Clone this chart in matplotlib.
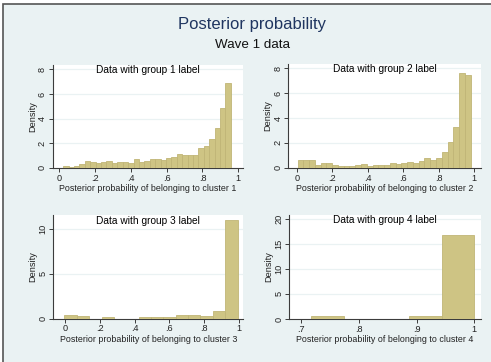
import numpy as np
import matplotlib
matplotlib.use("Agg")
import matplotlib.pyplot as plt
from matplotlib.patches import Rectangle

plt.rcParams['font.family'] = ['Liberation Sans', 'DejaVu Sans']

# ---- data (density per bin)
g1_start, g1_width = 0.022, 0.0302
g1_density = [0.13, 0.07, 0.15, 0.33, 0.55, 0.5, 0.4, 0.5, 0.57, 0.35,
              0.5, 0.5, 0.35, 0.72, 0.45, 0.55, 0.7, 0.7, 0.65, 0.8,
              0.85, 1.1, 1.05, 1.0, 1.0, 1.6, 1.8, 2.3, 3.2, 4.85, 6.9]

g2_start, g2_width = 0.004, 0.0325
g2_density = [0.65, 0.6, 0.6, 0.2, 0.4, 0.35, 0.2, 0.15, 0.15, 0.15,
              0.25, 0.3, 0.15, 0.25, 0.25, 0.2, 0.4, 0.3, 0.35, 0.45,
              0.35, 0.55, 0.75, 0.6, 0.8, 1.3, 2.05, 3.3, 7.6, 7.45]

g3_start, g3_width = -0.005, 0.0713
g3_density = [0.4, 0.3, 0, 0.15, 0, 0, 0.15, 0.2, 0.15, 0.4, 0.35, 0.3, 0.85, 11.0]

g4_start, g4_width = 0.718, 0.0564
g4_density = [0.6, 0, 0, 0.6, 16.8]

x_ticks_a = [0, 0.2, 0.4, 0.6, 0.8, 1]
x_labels_a = ["0", ".2", ".4", ".6", ".8", "1"]
x_ticks_b = [0.7, 0.8, 0.9, 1]
x_labels_b = [".7", ".8", ".9", "1"]

W, H = 491, 362
BG = '#EAF2F3'
BAR = '#CEC484'
BAR_EDGE = '#C0B576'
AX = '#3C3C3C'

fig = plt.figure(figsize=(W / 100, H / 100), dpi=100, facecolor='white')
# grey graph region with a dark frame on the left and top edges
fig.patches.append(Rectangle((2.5 / W, -0.1), 1.1, 1.1 - 4 / H, transform=fig.transFigure,
                             facecolor=BG, edgecolor='#555555', linewidth=1.2, zorder=-5))


def px_axes(left, top, right, bottom):
    return fig.add_axes([left / W, 1 - bottom / H, (right - left) / W, (bottom - top) / H])


def panel(ax, start, width, dens, xlim, ylim, yticks, xticks, xlabels, n):
    edges = start + width * np.arange(len(dens))
    ax.bar(edges, dens, width=width, align='edge', color=BAR, edgecolor=BAR_EDGE,
           linewidth=0.6, zorder=3)
    ax.set_xlim(*xlim)
    ax.set_ylim(*ylim)
    ax.set_facecolor('white')
    for s in ['top', 'right']:
        ax.spines[s].set_visible(False)
    for s in ['left', 'bottom']:
        ax.spines[s].set_color(AX)
        ax.spines[s].set_linewidth(0.8)
    ax.set_yticks(yticks)
    ax.set_yticklabels([str(t) for t in yticks], rotation=90, va='center')
    ax.set_xticks(xticks)
    ax.set_xticklabels(xlabels)
    ax.tick_params(axis='both', colors=AX, labelcolor='#222222', labelsize=6.6,
                   length=3, width=0.7, pad=1.2)
    for t in yticks[1:]:
        ax.axhline(t, color=BG, linewidth=0.9, zorder=1)
    ax.set_ylabel("Density", fontsize=6.6, color='#222222', labelpad=0.8)
    ax.set_xlabel("Posterior probability of belonging to cluster %d" % n,
                  fontsize=6.4, color='#222222', labelpad=1.2)
    ax.text(0.5, 0.995, "Data with group %d label" % n, transform=ax.transAxes,
            ha='center', va='top', fontsize=7.3, color='black', zorder=5)


ax1 = px_axes(52.7, 64.5, 243.3, 167.7)
panel(ax1, g1_start, g1_width, g1_density, (-0.037, 1.028), (0, 8.4),
      [0, 2, 4, 6, 8], x_ticks_a, x_labels_a, 1)

ax2 = px_axes(288.3, 63.5, 480.7, 167.7)
panel(ax2, g2_start, g2_width, g2_density, (-0.048, 1.036), (0, 8.4),
      [0, 2, 4, 6, 8], x_ticks_a, x_labels_a, 2)

ax3 = px_axes(53.3, 215, 243.3, 318.5)
panel(ax3, g3_start, g3_width, g3_density, (-0.069, 1.026), (0, 11.5),
      [0, 5, 10], x_ticks_a, x_labels_a, 3)

ax4 = px_axes(289.3, 214.5, 480.7, 319)
panel(ax4, g4_start, g4_width, g4_density, (0.680, 1.011), (0, 20.8),
      [0, 5, 10, 15, 20], x_ticks_b, x_labels_b, 4)

fig.text(252 / W, 1 - 24 / H, "Posterior probability", ha='center', va='center',
         fontsize=12, color='#1F3560')
fig.text(252 / W, 1 - 45 / H, "Wave 1 data", ha='center', va='center',
         fontsize=9.6, color='#111111')

fig.savefig("out.png", dpi=100, facecolor=fig.get_facecolor())
